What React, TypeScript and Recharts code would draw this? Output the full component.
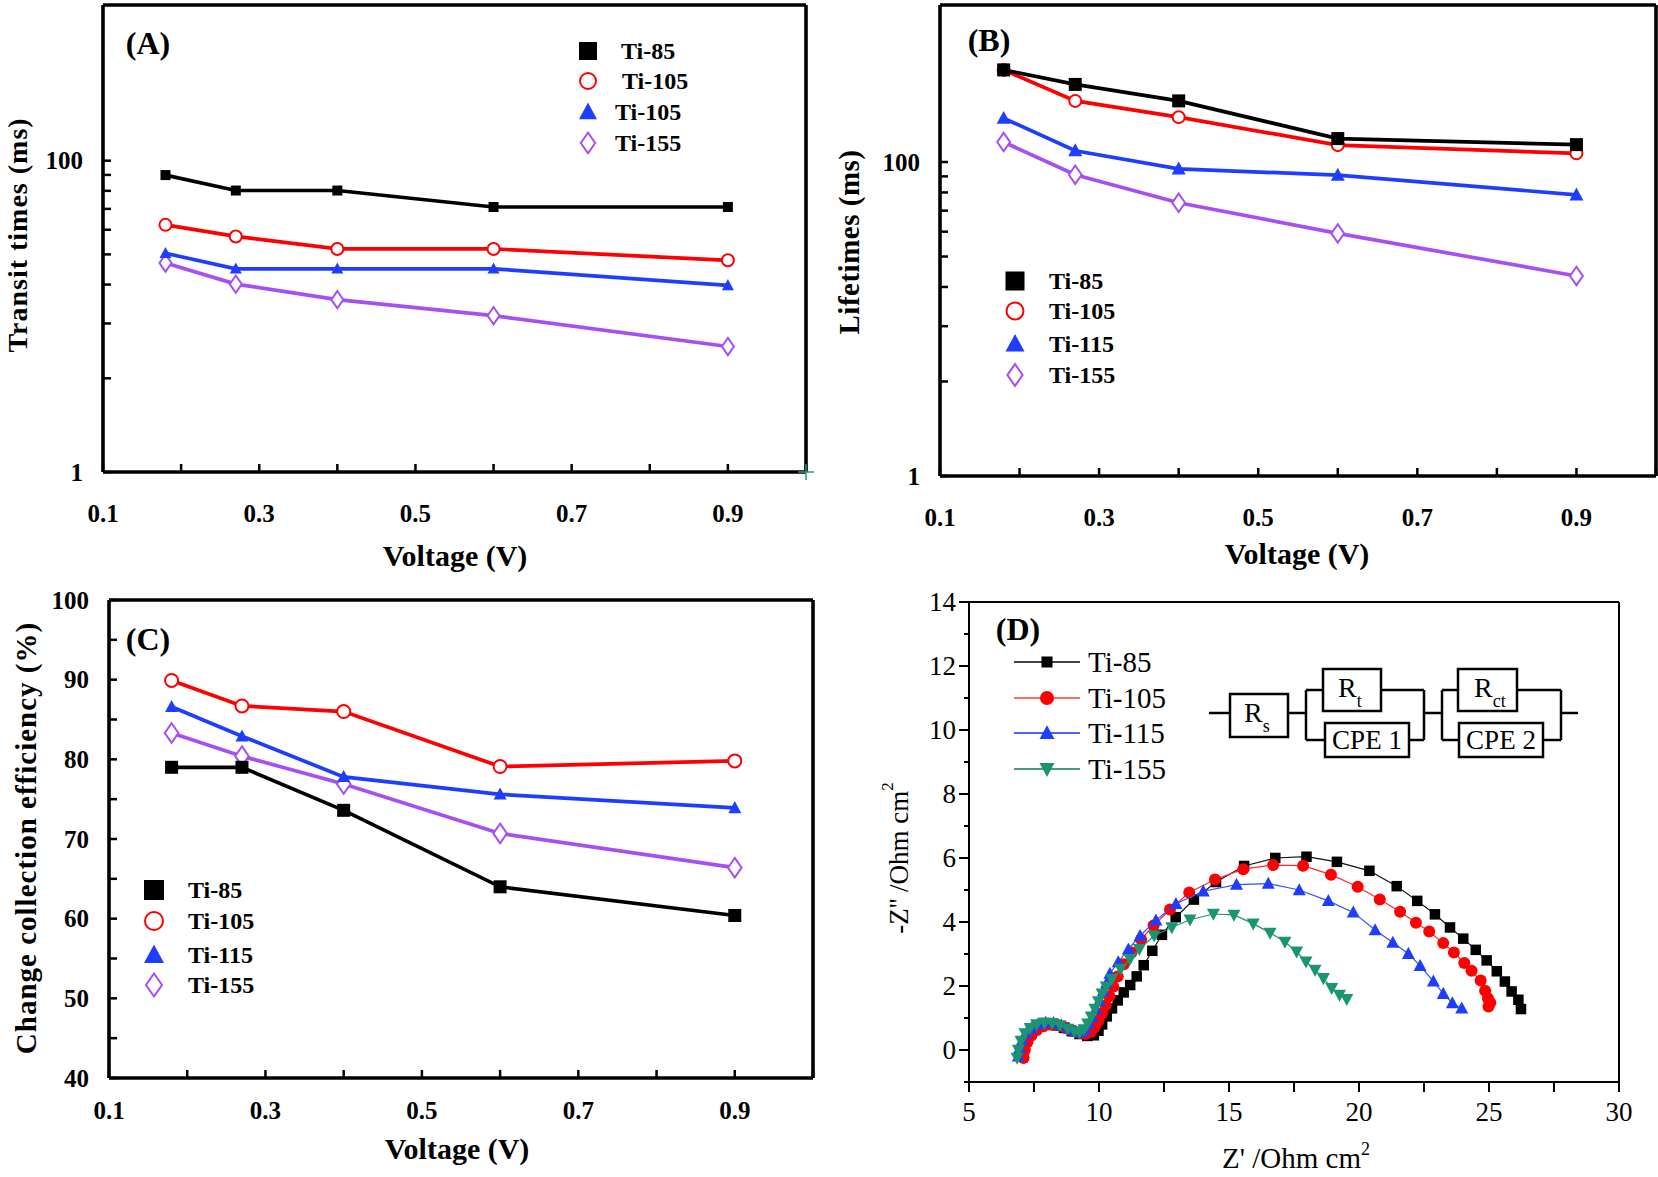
import React from "react";
import {
  LineChart,
  Line,
  XAxis,
  YAxis,
  ReferenceLine,
  ScatterChart,
  Scatter,
} from "recharts";

const FONT = "'Liberation Serif', 'Times New Roman', serif";
const BLACK = "#000000";
const RED = "#ff0000";
const BLUE = "#1f3dff";
const VIOLET = "#a64ff2";
const GREEN = "#1b9571";

// ---- panels A-C: bias voltage (V)
const voltages = [0.18, 0.27, 0.4, 0.6, 0.9];

// (A) transit times (ms)
const transitTi85 = [80.8, 64.3, 64.3, 50.4, 50.4];
const transitTi105 = [38.7, 32.6, 27.1, 27.1, 22.9];
const transitTi115 = [25.4, 20.2, 20.2, 20.2, 15.8];
const transitTi155 = [22.0, 16.1, 12.8, 10.1, 6.4];

// (B) lifetimes (ms)
const lifeTi85 = [386, 312, 245, 141, 129];
const lifeTi105 = [386, 245, 193, 128, 113.5];
const lifeTi115 = [190, 118, 90.4, 82.5, 61.8];
const lifeTi155 = [134, 83, 55, 35.1, 18.8];

// (C) charge collection efficiency (%)
const effTi85 = [79.0, 79.0, 73.6, 64.0, 60.4];
const effTi105 = [89.9, 86.7, 86.0, 79.1, 79.8];
const effTi115 = [86.6, 82.9, 77.8, 75.6, 73.9];
const effTi155 = [83.3, 80.4, 76.9, 70.7, 66.4];

const legendA = ["Ti-85", "Ti-105", "Ti-105", "Ti-155"];
const legendBC = ["Ti-85", "Ti-105", "Ti-115", "Ti-155"];

const voltTicks = [0.1, 0.2, 0.3, 0.4, 0.5, 0.6, 0.7, 0.8, 0.9, 1.0];
const voltLabels = [0.1, 0.3, 0.5, 0.7, 0.9];
const logTicks = [1, 4, 9, 16, 25, 36, 49, 64, 81, 100];
const logLabels = [1, 100];
const effTicks = [40, 45, 50, 55, 60, 65, 70, 75, 80, 85, 90, 95, 100];
const effLabels = [40, 50, 60, 70, 80, 90, 100];

// ---- panel D: Nyquist plots, [Z', -Z''] in Ohm cm2
const nyqTi85: [number, number][] = [
  [7.05, -0.18], [7.1, 0.06], [7.2, 0.3], [7.35, 0.5], [7.55, 0.65], [7.8, 0.75],
  [8.05, 0.79], [8.35, 0.77], [8.65, 0.69], [8.95, 0.59], [9.25, 0.5], [9.55, 0.44],
  [9.8, 0.46], [9.98, 0.6], [10.12, 0.8], [10.3, 1.05], [10.5, 1.3], [10.72, 1.55],
  [10.95, 1.8], [11.2, 2.03], [11.45, 2.3], [11.72, 2.65], [12.05, 3.1], [12.42, 3.6],
  [12.95, 4.15], [13.65, 4.7], [14.5, 5.25], [15.58, 5.75], [16.78, 6.0], [17.98, 6.04],
  [19.15, 5.88], [20.4, 5.6], [21.45, 5.12], [22.24, 4.66], [22.92, 4.24], [23.5, 3.83],
  [24.01, 3.48], [24.49, 3.13], [24.91, 2.8], [25.3, 2.46], [25.61, 2.14], [25.87, 1.83],
  [26.13, 1.57], [26.23, 1.28],
];
const nyqTi105: [number, number][] = [
  [7.1, -0.25], [7.15, 0.0], [7.25, 0.25], [7.4, 0.45], [7.6, 0.62], [7.85, 0.74],
  [8.1, 0.8], [8.4, 0.78], [8.7, 0.7], [9.0, 0.6], [9.25, 0.53], [9.48, 0.5],
  [9.68, 0.56], [9.84, 0.72], [9.98, 0.92], [10.12, 1.15], [10.26, 1.4], [10.4, 1.68],
  [10.55, 1.98], [10.72, 2.3], [10.95, 2.68], [11.25, 3.05], [11.62, 3.45], [12.1, 3.89],
  [12.73, 4.39], [13.47, 4.92], [14.46, 5.33], [15.55, 5.65], [16.7, 5.78], [17.85, 5.76],
  [18.92, 5.48], [19.95, 5.1], [20.8, 4.7], [21.58, 4.32], [22.19, 3.98], [22.7, 3.7],
  [23.24, 3.34], [23.65, 3.05], [24.05, 2.72], [24.33, 2.48], [24.68, 2.17], [24.85, 1.85],
  [24.96, 1.62], [25.05, 1.48], [24.98, 1.36],
];
const nyqTi115: [number, number][] = [
  [6.9, -0.2], [6.95, 0.05], [7.05, 0.3], [7.2, 0.52], [7.4, 0.68], [7.65, 0.8],
  [7.95, 0.86], [8.25, 0.85], [8.55, 0.78], [8.85, 0.67], [9.1, 0.58], [9.3, 0.55],
  [9.46, 0.64], [9.6, 0.82], [9.74, 1.04], [9.88, 1.28], [10.02, 1.54], [10.17, 1.84],
  [10.3, 2.1], [10.42, 2.39], [10.74, 2.75], [11.13, 3.15], [11.58, 3.57], [12.19, 4.05],
  [12.96, 4.57], [14.01, 4.96], [15.29, 5.17], [16.51, 5.2], [17.7, 5.0], [18.82, 4.66],
  [19.78, 4.3], [20.62, 3.75], [21.3, 3.36], [21.9, 3.01], [22.35, 2.63], [22.86, 2.15],
  [23.24, 1.76], [23.59, 1.47], [23.95, 1.3],
];
const nyqTi155: [number, number][] = [
  [6.85, -0.25], [6.9, 0.0], [7.0, 0.28], [7.15, 0.52], [7.35, 0.68], [7.6, 0.8],
  [7.9, 0.85], [8.2, 0.84], [8.5, 0.77], [8.8, 0.66], [9.05, 0.58], [9.25, 0.55],
  [9.42, 0.64], [9.56, 0.82], [9.7, 1.04], [9.84, 1.28], [9.98, 1.52], [10.12, 1.76],
  [10.28, 1.98], [10.49, 2.21], [10.83, 2.53], [11.19, 2.84], [11.55, 3.15], [12.12, 3.57],
  [12.8, 3.83], [13.5, 4.07], [14.4, 4.25], [15.19, 4.22], [15.93, 3.95], [16.58, 3.66],
  [17.15, 3.38], [17.6, 3.07], [17.96, 2.76], [18.31, 2.5], [18.63, 2.24], [18.95, 1.93],
  [19.25, 1.72], [19.53, 1.59],
];

const zReTicks = [5, 7.5, 10, 12.5, 15, 17.5, 20, 22.5, 25, 27.5, 30];
const zReLabels = [5, 10, 15, 20, 25, 30];
const zImTicks = [-1, 0, 1, 2, 3, 4, 5, 6, 7, 8, 9, 10, 11, 12, 13, 14];
const zImLabels = [0, 2, 4, 6, 8, 10, 12, 14];

type Kind = "square" | "openCircle" | "circle" | "triangle" | "triangleDown" | "diamond";

function Marker({ kind, cx, cy, s, color, sw = 1.8 }: {
  kind: Kind; cx: number; cy: number; s: number; color: string; sw?: number;
}) {
  if (cx == null || cy == null) return null;
  const h = s / 2;
  switch (kind) {
    case "square":
      return <rect x={cx - h} y={cy - h} width={s} height={s} fill={color} />;
    case "openCircle":
      return <circle cx={cx} cy={cy} r={h - sw / 2} fill="#fff" stroke={color} strokeWidth={sw} />;
    case "circle":
      return <circle cx={cx} cy={cy} r={h} fill={color} />;
    case "triangle":
      return <polygon points={`${cx},${cy - h * 1.05} ${cx + h},${cy + h * 0.8} ${cx - h},${cy + h * 0.8}`} fill={color} />;
    case "triangleDown":
      return <polygon points={`${cx},${cy + h * 1.05} ${cx + h},${cy - h * 0.8} ${cx - h},${cy - h * 0.8}`} fill={color} />;
    case "diamond":
      return (
        <polygon
          points={`${cx},${cy - h * 1.15} ${cx + h * 0.8},${cy} ${cx},${cy + h * 1.15} ${cx - h * 0.8},${cy}`}
          fill="#fff"
          stroke={color}
          strokeWidth={sw}
        />
      );
  }
  return null;
}

const isIn = (list: number[], v: number) => list.some((m) => Math.abs(m - v) < 1e-6);

interface TickOpts {
  edge: number;
  labels: number[];
  len: number;
  minorLen?: number;
  inward: boolean;
  gap: number;
  size: number;
  bold: boolean;
  sw: number;
  fmt: (v: number) => string;
}

const xTick = (o: TickOpts) => (p: any) => {
  const v = p.payload.value;
  const major = isIn(o.labels, v);
  const len = major ? o.len : o.minorLen ?? o.len;
  return (
    <g>
      <line x1={p.x} x2={p.x} y1={o.edge} y2={o.inward ? o.edge - len : o.edge + len} stroke="#000" strokeWidth={o.sw} />
      {major && (
        <text x={p.x} y={o.edge + o.gap} textAnchor="middle" dominantBaseline="central"
          fontFamily={FONT} fontSize={o.size} fontWeight={o.bold ? 700 : 400} fill="#000">
          {o.fmt(v)}
        </text>
      )}
    </g>
  );
};

const yTick = (o: TickOpts) => (p: any) => {
  const v = p.payload.value;
  const major = isIn(o.labels, v);
  const len = major ? o.len : o.minorLen ?? o.len;
  return (
    <g>
      <line x1={o.edge} x2={o.inward ? o.edge + len : o.edge - len} y1={p.y} y2={p.y} stroke="#000" strokeWidth={o.sw} />
      {major && (
        <text x={o.edge - o.gap} y={p.y} textAnchor="end" dominantBaseline="central"
          fontFamily={FONT} fontSize={o.size} fontWeight={o.bold ? 700 : 400} fill="#000">
          {o.fmt(v)}
        </text>
      )}
    </g>
  );
};

interface SeriesStyle { key: string; kind: Kind; color: string; size: number }

interface VoltPanelProps {
  left: number; top: number; width: number; height: number;
  plotLeft: number; plotRight: number; plotTop: number; plotBottom: number;
  values: number[][]; // Ti-85, Ti-105, Ti-115, Ti-155
  sizes: number[];
  log: boolean;
  yDomain: [number, number];
  yTicks: number[];
  yLabels: number[];
  xGap: number;
}

function VoltagePanel(p: VoltPanelProps) {
  const rows = voltages.map((v, i) => ({
    v,
    ti85: p.values[0][i],
    ti105: p.values[1][i],
    ti115: p.values[2][i],
    ti155: p.values[3][i],
  }));
  const series: SeriesStyle[] = [
    { key: "ti155", kind: "diamond", color: VIOLET, size: p.sizes[3] },
    { key: "ti115", kind: "triangle", color: BLUE, size: p.sizes[2] },
    { key: "ti105", kind: "openCircle", color: RED, size: p.sizes[1] },
    { key: "ti85", kind: "square", color: BLACK, size: p.sizes[0] },
  ];
  const common = { len: 8, inward: true, size: 25, bold: true, sw: 2.5 };
  const axisLine = { stroke: "#000", strokeWidth: 3.6 };
  return (
    <div style={{ position: "absolute", left: p.left, top: p.top }}>
      <LineChart
        width={p.width}
        height={p.height}
        data={rows}
        margin={{ top: p.plotTop, right: p.width - p.plotRight, bottom: 0, left: 0 }}
      >
        <XAxis
          dataKey="v"
          type="number"
          domain={[0.1, 1.0]}
          ticks={voltTicks}
          interval={0}
          height={p.height - p.plotBottom}
          allowDataOverflow
          tickLine={false}
          axisLine={axisLine}
          tick={xTick({ ...common, edge: p.plotBottom, labels: voltLabels, gap: p.xGap, fmt: (v) => v.toFixed(1) })}
        />
        <YAxis
          type="number"
          scale={p.log ? "log" : "linear"}
          domain={p.yDomain}
          ticks={p.yTicks}
          interval={0}
          width={p.plotLeft}
          allowDataOverflow
          tickLine={false}
          axisLine={axisLine}
          tick={yTick({ ...common, edge: p.plotLeft, labels: p.yLabels, gap: 20, fmt: (v) => String(v) })}
        />
        <ReferenceLine y={p.yDomain[1]} stroke="#000" strokeWidth={3.6} />
        <ReferenceLine x={1.0} stroke="#000" strokeWidth={3.6} />
        {series.map((s) => (
          <Line
            key={s.key}
            dataKey={s.key}
            stroke={s.color}
            strokeWidth={3.7}
            isAnimationActive={false}
            activeDot={false}
            dot={(d: any) => (
              <g key={`${s.key}-${d.index}`}>
                <Marker kind={s.kind} cx={d.cx} cy={d.cy} s={s.size} color={s.color} sw={2} />
              </g>
            )}
          />
        ))}
      </LineChart>
    </div>
  );
}

function NyquistPanel() {
  const left = 830, top = 560, width = 828, height = 617;
  const plotLeft = 139, plotRight = 789, plotTop = 42, plotBottom = 522;
  const series = [
    { name: "Ti-85", data: nyqTi85, kind: "square" as Kind, color: BLACK, line: "#111", size: 10.5 },
    { name: "Ti-105", data: nyqTi105, kind: "circle" as Kind, color: RED, line: "#ff2a2a", size: 12 },
    { name: "Ti-115", data: nyqTi115, kind: "triangle" as Kind, color: BLUE, line: "#3050ff", size: 13 },
    { name: "Ti-155", data: nyqTi155, kind: "triangleDown" as Kind, color: GREEN, line: "#2a8f6e", size: 13 },
  ];
  const common = { inward: false, size: 27, bold: false, sw: 2 };
  const axisLine = { stroke: "#000", strokeWidth: 2 };
  return (
    <div style={{ position: "absolute", left, top }}>
      <ScatterChart
        width={width}
        height={height}
        margin={{ top: plotTop, right: width - plotRight, bottom: 0, left: 0 }}
      >
        <XAxis
          dataKey="x"
          type="number"
          domain={[5, 30]}
          ticks={zReTicks}
          interval={0}
          height={height - plotBottom}
          allowDataOverflow
          tickLine={false}
          axisLine={axisLine}
          tick={xTick({ ...common, edge: plotBottom, labels: zReLabels, len: 10, gap: 30, fmt: (v) => String(v) })}
        />
        <YAxis
          dataKey="y"
          type="number"
          domain={[-1, 14]}
          ticks={zImTicks}
          interval={0}
          width={plotLeft}
          allowDataOverflow
          tickLine={false}
          axisLine={axisLine}
          tick={yTick({ ...common, edge: plotLeft, labels: zImLabels, len: 10, minorLen: 5, gap: 13, fmt: (v) => String(v) })}
        />
        <ReferenceLine y={14} stroke="#000" strokeWidth={2} />
        <ReferenceLine x={30} stroke="#000" strokeWidth={2} />
        {series.map((s) => (
          <Scatter
            key={s.name}
            name={s.name}
            data={s.data.map(([x, y]) => ({ x, y }))}
            line={{ stroke: s.line, strokeWidth: 1.2 }}
            lineType="joint"
            isAnimationActive={false}
            shape={(d: any) => <Marker kind={s.kind} cx={d.cx} cy={d.cy} s={s.size} color={s.color} />}
          />
        ))}
      </ScatterChart>
    </div>
  );
}

const bold = (size: number) => ({ fontFamily: FONT, fontSize: size, fontWeight: 700, fill: "#000" });
const plain = (size: number) => ({ fontFamily: FONT, fontSize: size, fontWeight: 400, fill: "#000" });

const kinds: Kind[] = ["square", "openCircle", "triangle", "diamond"];
const kindColors = [BLACK, RED, BLUE, VIOLET];

function VoltLegend({ names, mx, tx, rows, size }: {
  names: string[]; mx: number; tx: number[]; rows: number[]; size: number;
}) {
  return (
    <g>
      {names.map((n, i) => (
        <g key={i}>
          <Marker kind={kinds[i]} cx={mx} cy={rows[i]} s={size} color={kindColors[i]} sw={2} />
          <text x={tx[i]} y={rows[i]} dominantBaseline="central" {...bold(24)}>{n}</text>
        </g>
      ))}
    </g>
  );
}

function Box({ x1, y1, x2, y2 }: { x1: number; y1: number; x2: number; y2: number }) {
  return <rect x={x1} y={y1} width={x2 - x1} height={y2 - y1} fill="#fff" stroke="#000" strokeWidth={2.5} />;
}

function Circuit() {
  const mid = 713, hi = 690, lo = 740;
  const wires: [number, number, number, number][] = [
    [1209, mid, 1230, mid], [1288, mid, 1306, mid],
    [1306, hi, 1306, lo], [1306, hi, 1323, hi], [1381, hi, 1424, hi],
    [1306, lo, 1325, lo], [1409, lo, 1424, lo], [1424, hi, 1424, lo],
    [1424, mid, 1442, mid], [1442, hi, 1442, lo], [1442, hi, 1458, hi],
    [1517, hi, 1561, hi], [1442, lo, 1459, lo], [1543, lo, 1561, lo],
    [1561, hi, 1561, lo], [1561, mid, 1578, mid],
  ];
  return (
    <g>
      {wires.map(([a, b, c, d], i) => (
        <line key={i} x1={a} y1={b} x2={c} y2={d} stroke="#000" strokeWidth={2.5} />
      ))}
      <Box x1={1230} y1={694} x2={1288} y2={737} />
      <Box x1={1323} y1={669} x2={1381} y2={711} />
      <Box x1={1325} y1={723} x2={1409} y2={757} />
      <Box x1={1458} y1={669} x2={1517} y2={711} />
      <Box x1={1459} y1={723} x2={1543} y2={757} />
      <text x={1244} y={722} {...plain(28)}>R<tspan dy={10} fontSize={18}>s</tspan></text>
      <text x={1338} y={697} {...plain(28)}>R<tspan dy={10} fontSize={18}>t</tspan></text>
      <text x={1474} y={697} {...plain(28)}>R<tspan dy={10} fontSize={18}>ct</tspan></text>
      <text x={1367} y={749} textAnchor="middle" {...plain(27)}>CPE 1</text>
      <text x={1501} y={749} textAnchor="middle" {...plain(27)}>CPE 2</text>
    </g>
  );
}

function NyquistLegend() {
  const rows = [662, 698, 733, 769];
  const items = [
    { kind: "square" as Kind, color: BLACK, line: "#444", s: 11 },
    { kind: "circle" as Kind, color: RED, line: "#ff6a6a", s: 14 },
    { kind: "triangle" as Kind, color: BLUE, line: "#4a62ff", s: 15 },
    { kind: "triangleDown" as Kind, color: GREEN, line: "#4a9a80", s: 15 },
  ];
  return (
    <g>
      {items.map((it, i) => (
        <g key={i}>
          <line x1={1014} x2={1080} y1={rows[i]} y2={rows[i]} stroke={it.line} strokeWidth={2} />
          <Marker kind={it.kind} cx={1047} cy={rows[i]} s={it.s} color={it.color} />
          <text x={1088} y={rows[i]} dominantBaseline="central" {...plain(29)}>{legendBC[i]}</text>
        </g>
      ))}
    </g>
  );
}

function Annotations() {
  return (
    <svg width={1658} height={1177} style={{ position: "absolute", left: 0, top: 0, pointerEvents: "none" }}>
      {/* (A) */}
      <text x={148} y={43} textAnchor="middle" dominantBaseline="central" {...bold(32)}>(A)</text>
      <VoltLegend names={legendA} mx={588} tx={[621, 622, 615, 615]} rows={[51, 81, 112, 143]} size={18} />
      <text transform="translate(17,235) rotate(-90)" textAnchor="middle" dominantBaseline="central"
        letterSpacing={1} {...bold(28)}>Transit times (ms)</text>
      <text x={455} y={555} textAnchor="middle" dominantBaseline="central" {...bold(30)}>Voltage (V)</text>
      <line x1={798} x2={814} y1={472} y2={472} stroke="#2a9d6b" strokeWidth={1.5} />
      <line x1={806} x2={806} y1={464} y2={480} stroke="#2a9d6b" strokeWidth={1.5} />

      {/* (B) */}
      <text x={989} y={40} textAnchor="middle" dominantBaseline="central" {...bold(32)}>(B)</text>
      <VoltLegend names={legendBC} mx={1015} tx={[1049, 1049, 1049, 1049]} rows={[281, 311, 344, 375]} size={19} />
      <text transform="translate(849,242) rotate(-90)" textAnchor="middle" dominantBaseline="central"
        letterSpacing={0.5} {...bold(29)}>Lifetimes (ms)</text>
      <text x={1297} y={553} textAnchor="middle" dominantBaseline="central" {...bold(30)}>Voltage (V)</text>

      {/* (C) */}
      <text x={148} y={639} textAnchor="middle" dominantBaseline="central" {...bold(32)}>(C)</text>
      <VoltLegend names={legendBC} mx={154} tx={[188, 188, 188, 188]} rows={[890, 921, 955, 985]} size={20} />
      <text transform="translate(26,838) rotate(-90)" textAnchor="middle" dominantBaseline="central"
        letterSpacing={1} {...bold(29)}>Change collection efficiency (%)</text>
      <text x={457} y={1148} textAnchor="middle" dominantBaseline="central" {...bold(30)}>Voltage (V)</text>

      {/* (D) */}
      <text x={1018} y={629} textAnchor="middle" dominantBaseline="central" {...bold(32)}>(D)</text>
      <NyquistLegend />
      <Circuit />
      <text transform="translate(899,858) rotate(-90)" textAnchor="middle" dominantBaseline="central" {...plain(27)}>
        -Z'' /Ohm cm<tspan dy={-12} fontSize={17}>2</tspan>
      </text>
      <text x={1296} y={1168} textAnchor="middle" {...plain(29)}>
        Z' /Ohm cm<tspan dy={-13} fontSize={18}>2</tspan>
      </text>
    </svg>
  );
}

export default function App() {
  return (
    <div style={{ position: "absolute", left: 0, top: 0, width: 1658, height: 1177, background: "#fff", overflow: "hidden" }}>
      <VoltagePanel
        left={0} top={0} width={830} height={560}
        plotLeft={103} plotRight={806} plotTop={5} plotBottom={472}
        values={[transitTi85, transitTi105, transitTi115, transitTi155]}
        sizes={[10, 14, 12, 15]}
        log yDomain={[1, 1000]} yTicks={logTicks} yLabels={logLabels} xGap={41}
      />
      <VoltagePanel
        left={830} top={0} width={828} height={560}
        plotLeft={110} plotRight={826} plotTop={5} plotBottom={476}
        values={[lifeTi85, lifeTi105, lifeTi115, lifeTi155]}
        sizes={[13, 14, 14, 16]}
        log yDomain={[1, 1000]} yTicks={logTicks} yLabels={logLabels} xGap={41}
      />
      <VoltagePanel
        left={0} top={560} width={830} height={617}
        plotLeft={109} plotRight={813} plotTop={40} plotBottom={518}
        values={[effTi85, effTi105, effTi115, effTi155]}
        sizes={[13, 15, 13, 17]}
        log={false} yDomain={[40, 100]} yTicks={effTicks} yLabels={effLabels} xGap={32}
      />
      <NyquistPanel />
      <Annotations />
    </div>
  );
}
